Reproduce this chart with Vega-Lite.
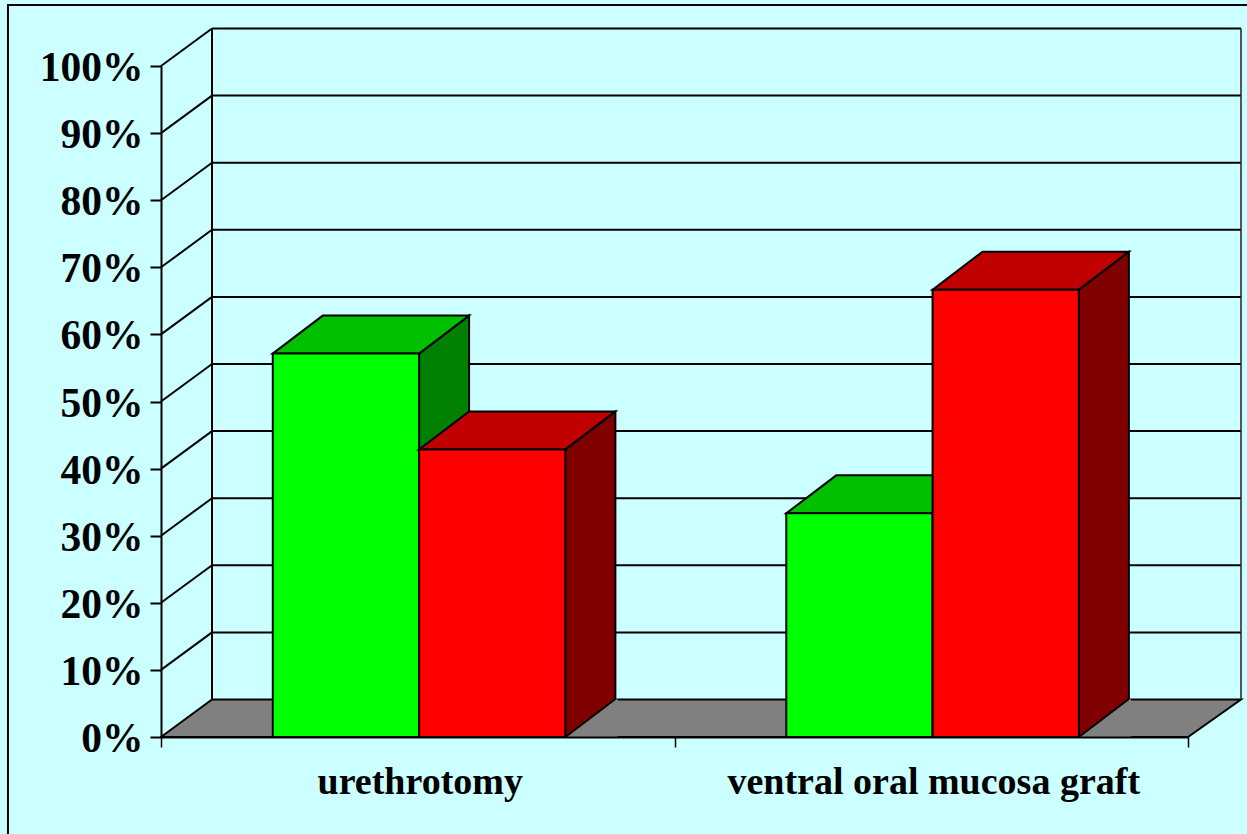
{
  "$schema": "https://vega.github.io/schema/vega-lite/v6.json",
  "width": 1027,
  "height": 671,
  "autosize": "none",
  "padding": {"left": 161, "top": 66, "right": 59, "bottom": 97},
  "background": "#CCFFFF",
  "config": {"view": {"stroke": null}, "font": "Liberation Serif"},
  "datasets": {
    "bars": [
      {"category": "urethrotomy", "series": "Series 1", "value": 0.5714},
      {"category": "urethrotomy", "series": "Series 2", "value": 0.4286},
      {"category": "ventral oral mucosa graft", "series": "Series 1", "value": 0.3333},
      {"category": "ventral oral mucosa graft", "series": "Series 2", "value": 0.6667}
    ],
    "grid": [
      {"g": 0.1}, {"g": 0.2}, {"g": 0.3}, {"g": 0.4}, {"g": 0.5},
      {"g": 0.6}, {"g": 0.7}, {"g": 0.8}, {"g": 0.9}, {"g": 1.0}
    ]
  },
  "resolve": {"scale": {"x": "independent"}},
  "layer": [
    {
      "layer": [
        {
          "data": {"values": [{}]},
          "mark": {"type": "rect", "fillOpacity": 0, "stroke": "black", "strokeWidth": 2},
          "encoding": {
            "x": {"datum": -0.149, "type": "quantitative", "scale": {"domain": [0, 1], "nice": false, "zero": false}, "axis": null},
            "x2": {"datum": 1.07},
            "y": {"datum": 1.0909, "type": "quantitative"},
            "y2": {"datum": -0.17}
          }
        },
        {
          "data": {"values": [{}]},
          "mark": {"type": "point", "shape": "M0,0 L51,-37.5 L1080,-37.5 L1027,0 Z", "size": 4, "filled": true, "fill": "#808080", "stroke": "black", "strokeWidth": 2, "opacity": 1},
          "encoding": {
            "x": {"datum": 0, "type": "quantitative", "scale": {"domain": [0, 1], "nice": false, "zero": false}, "axis": null},
            "y": {"datum": 0, "type": "quantitative"}
          }
        },
        {
          "data": {"name": "grid"},
          "mark": {"type": "rule", "color": "black", "strokeWidth": 2, "xOffset": 51, "x2Offset": 53, "yOffset": -37.5},
          "encoding": {
            "x": {"datum": 0, "type": "quantitative", "scale": {"domain": [0, 1], "nice": false, "zero": false}, "axis": null},
            "x2": {"datum": 1},
            "y": {"field": "g", "type": "quantitative"}
          }
        },
        {
          "data": {"name": "grid"},
          "mark": {"type": "rule", "color": "black", "strokeWidth": 2, "x2Offset": 51, "y2Offset": -37.5},
          "encoding": {
            "x": {"datum": 0, "type": "quantitative", "scale": {"domain": [0, 1], "nice": false, "zero": false}, "axis": null},
            "x2": {"datum": 0},
            "y": {"field": "g", "type": "quantitative"},
            "y2": {"field": "g"}
          }
        },
        {
          "data": {"values": [{}]},
          "mark": {"type": "rule", "color": "black", "strokeWidth": 2, "xOffset": 51, "yOffset": -37.5, "y2Offset": -37.5},
          "encoding": {
            "x": {"datum": 0, "type": "quantitative", "scale": {"domain": [0, 1], "nice": false, "zero": false}, "axis": null},
            "y": {"datum": 0, "type": "quantitative"},
            "y2": {"datum": 1}
          }
        },
        {
          "data": {"values": [{}]},
          "mark": {"type": "rule", "color": "#222222", "strokeWidth": 1.5, "xOffset": 53, "yOffset": -37.5, "y2Offset": -37.5},
          "encoding": {
            "x": {"datum": 1, "type": "quantitative", "scale": {"domain": [0, 1], "nice": false, "zero": false}, "axis": null},
            "y": {"datum": 0, "type": "quantitative"},
            "y2": {"datum": 1}
          }
        }
      ]
    },
    {
      "data": {"name": "bars"},
      "encoding": {
        "x": {
          "field": "category", "type": "nominal",
          "scale": {"type": "band", "domain": ["urethrotomy", "ventral oral mucosa graft"], "paddingInner": 0, "paddingOuter": 0},
          "axis": {"title": null, "labelAngle": 0, "labelFont": "Liberation Serif", "labelFontWeight": "bold", "labelFontSize": 38, "labelColor": "black", "labelPadding": 16, "labelLimit": 1000, "labelOffset": 2, "domainColor": "black", "domainWidth": 2, "tickColor": "black", "tickWidth": 1.5, "tickSize": 10, "tickBand": "extent", "grid": false, "zindex": 1}
        },
        "xOffset": {
          "field": "series", "type": "nominal",
          "scale": {"domain": ["Series 1", "Series 2"], "paddingInner": 0, "paddingOuter": 0.755, "align": 0.506}
        },
        "y": {
          "field": "value", "type": "quantitative",
          "scale": {"domain": [0, 1], "nice": false, "zero": true},
          "axis": {"values": [0, 0.1, 0.2, 0.3, 0.4, 0.5, 0.6, 0.7, 0.8, 0.9, 1], "format": ".0%", "title": null, "grid": false, "domainColor": "black", "domainWidth": 2, "tickColor": "black", "tickWidth": 2, "tickSize": 11, "labelPadding": 7, "labelFont": "Liberation Serif", "labelFontWeight": "bold", "labelFontSize": 41.5, "labelColor": "black", "labelBaseline": "alphabetic", "labelOffset": 14.5, "zindex": 1}
        }
      },
      "layer": [
        {
          "transform": [{"filter": "datum.series == 'Series 1'"}],
          "mark": {"type": "point", "shape": "M73.15,0 L123.15,-38 L123.15,800 L73.15,800 Z", "size": 4, "filled": true, "fill": "#008000", "stroke": "black", "strokeWidth": 2, "opacity": 1, "clip": true}
        },
        {
          "transform": [{"filter": "datum.series == 'Series 1'"}],
          "mark": {"type": "point", "shape": "M73.15,0 L123.15,-38 L125.5,-37.5 L125.5,0 Z", "size": 4, "filled": true, "fill": "#808080", "opacity": 1},
          "encoding": {"y": {"datum": 0, "type": "quantitative"}}
        },
        {
          "transform": [{"filter": "datum.series == 'Series 1'"}],
          "mark": {"type": "point", "shape": "M73.15,0 L123.15,-38", "size": 4, "filled": false, "stroke": "black", "strokeWidth": 2, "opacity": 1},
          "encoding": {"y": {"datum": 0, "type": "quantitative"}}
        },
        {
          "transform": [{"filter": "datum.series == 'Series 1'"}],
          "mark": {"type": "point", "shape": "M-73.15,0 L73.15,0 L123.15,-38 L-23.15,-38 Z", "size": 4, "filled": true, "fill": "#00C000", "stroke": "black", "strokeWidth": 2, "opacity": 1}
        },
        {
          "transform": [{"filter": "datum.series == 'Series 1'"}],
          "mark": {"type": "bar", "fill": "#00FF00", "stroke": "black", "strokeWidth": 2, "opacity": 1}
        },
        {
          "transform": [{"filter": "datum.series == 'Series 2'"}],
          "mark": {"type": "point", "shape": "M73.15,0 L123.15,-38 L123.15,800 L73.15,800 Z", "size": 4, "filled": true, "fill": "#800000", "stroke": "black", "strokeWidth": 2, "opacity": 1, "clip": true}
        },
        {
          "transform": [{"filter": "datum.series == 'Series 2'"}],
          "mark": {"type": "point", "shape": "M73.15,0 L123.15,-38 L125.5,-37.5 L125.5,0 Z", "size": 4, "filled": true, "fill": "#808080", "opacity": 1},
          "encoding": {"y": {"datum": 0, "type": "quantitative"}}
        },
        {
          "transform": [{"filter": "datum.series == 'Series 2'"}],
          "mark": {"type": "point", "shape": "M73.15,0 L123.15,-38", "size": 4, "filled": false, "stroke": "black", "strokeWidth": 2, "opacity": 1},
          "encoding": {"y": {"datum": 0, "type": "quantitative"}}
        },
        {
          "transform": [{"filter": "datum.series == 'Series 2'"}],
          "mark": {"type": "point", "shape": "M-73.15,0 L73.15,0 L123.15,-38 L-23.15,-38 Z", "size": 4, "filled": true, "fill": "#C00000", "stroke": "black", "strokeWidth": 2, "opacity": 1}
        },
        {
          "transform": [{"filter": "datum.series == 'Series 2'"}],
          "mark": {"type": "bar", "fill": "#FF0000", "stroke": "black", "strokeWidth": 2, "opacity": 1}
        }
      ]
    }
  ]
}
